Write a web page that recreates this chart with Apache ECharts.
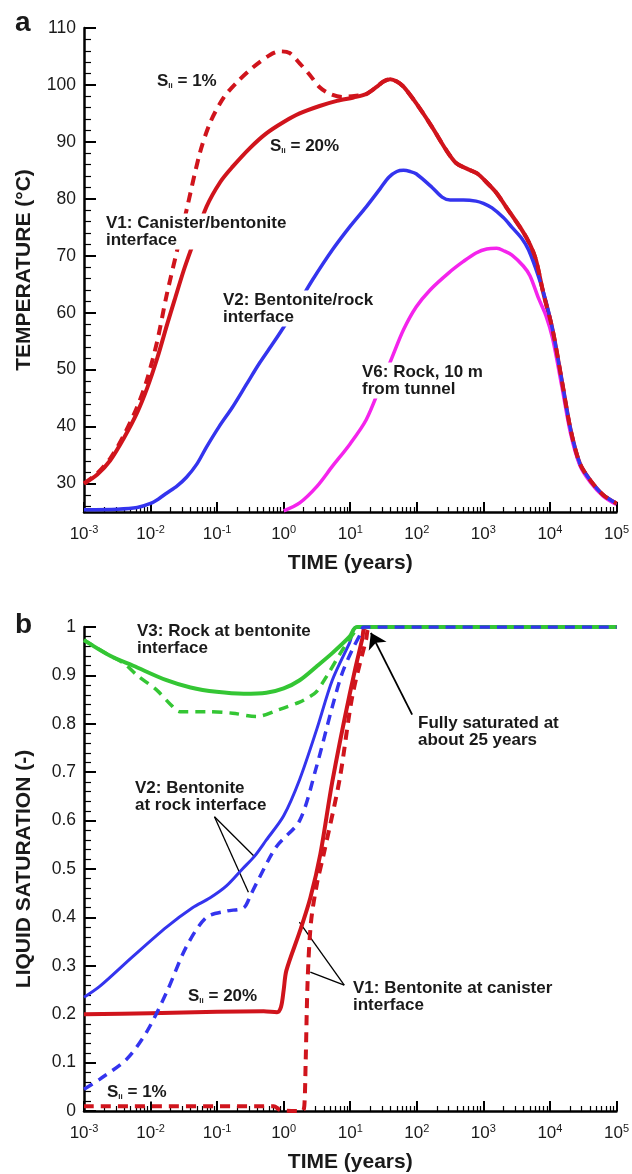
<!DOCTYPE html>
<html>
<head>
<meta charset="utf-8">
<script src="https://cdn.jsdelivr.net/npm/echarts@6/dist/echarts.min.js"></script>
<style>
  html, body { margin: 0; padding: 0; background: #fff; }
  #chart { width: 632px; height: 1174px; }
</style>
</head>
<body>
<div id="chart"></div>
<script>
// Time is stored as log10(years); the x axes run over decades 10^-3 .. 10^5.
const timeDecades = [-3, -2, -1, 0, 1, 2, 3, 4, 5];
const tempTicks = [30, 40, 50, 60, 70, 80, 90, 100, 110];
const satTicks = [0, 0.1, 0.2, 0.3, 0.4, 0.5, 0.6, 0.7, 0.8, 0.9, 1];

// (a) Temperature, °C
const v1TempSli20 = [[-3,30],[-2.8,31.6],[-2.61,34],[-2.4,38],[-2.2,42.5],[-2.05,46.8],[-1.9,52],[-1.75,58],[-1.64,62.2],[-1.5,67.5],[-1.38,71.5],[-1.16,78.6],[-0.95,83],[-0.77,85.6],[-0.5,89],[-0.26,91.5],[0,93.5],[0.24,95],[0.54,96.3],[0.8,97.2],[1.05,97.8],[1.24,98.4],[1.39,99.6],[1.5,100.6],[1.6,101],[1.7,100.6],[1.8,99.7],[1.99,96.8],[2.23,92.6],[2.44,88.6],[2.59,86.3],[2.75,85.3],[2.9,84.5],[3.04,83],[3.2,81],[3.34,78.6],[3.58,74.5],[3.7,72],[3.79,69.3],[3.9,63.5],[4.04,57],[4.18,48],[4.31,39.5],[4.45,33.5],[4.61,30.5],[4.8,28],[5,26.5]];
const v1TempSli1Early = [[-3,30],[-2.8,31.8],[-2.6,34.5],[-2.4,38.5],[-2.2,43.5],[-2.06,48],[-1.9,55],[-1.76,63],[-1.6,71],[-1.46,78],[-1.26,88],[-1.1,93.5],[-0.9,97.8],[-0.7,100.5],[-0.47,103],[-0.2,105.3],[-0.05,105.9],[0.09,105.6],[0.24,103.8],[0.39,101.8],[0.54,99.6],[0.7,98.4],[0.88,97.9],[1.09,98.1],[1.24,98.4]];
const v2Temp = [[-3,25.4],[-2.5,25.5],[-2.2,25.8],[-2,26.5],[-1.88,27.3],[-1.76,28.3],[-1.6,29.6],[-1.46,31.1],[-1.3,33.5],[-1.16,36.4],[-0.97,40],[-0.77,43.4],[-0.56,47.4],[-0.36,51.2],[-0.15,54.8],[0.04,58.2],[0.24,62],[0.43,65.7],[0.73,71],[1,75.2],[1.24,78.6],[1.45,81.8],[1.58,83.8],[1.7,84.8],[1.8,85],[1.9,84.8],[1.99,84.4],[2.23,82],[2.38,80.3],[2.5,79.8],[2.7,79.8],[2.89,79.6],[3,79.2],[3.13,78.4],[3.3,76.7],[3.43,75],[3.58,73],[3.68,71],[3.83,66.3],[3.94,62],[4.04,57],[4.18,48],[4.31,39.5],[4.45,33.5],[4.61,30.5],[4.8,28],[5,26.5]];
const v6Temp = [[0,25.2],[0.24,26.6],[0.5,29.5],[0.73,33],[1,37],[1.24,41.2],[1.45,47],[1.63,52.2],[1.8,57],[1.99,61],[2.2,64],[2.48,67],[2.7,69],[2.89,70.5],[3.05,71.2],[3.2,71.3],[3.32,70.8],[3.43,70.1],[3.6,68.2],[3.7,66.5],[3.83,62.5],[3.94,59.5],[4.04,55.5],[4.18,47],[4.31,38.8],[4.45,33.2],[4.61,30.2],[4.8,27.8],[5,26.3]];

// (b) Liquid saturation, -
const v1SatSli20 = [[-3,0.2],[-2,0.202],[-1,0.205],[-0.3,0.206],[-0.1,0.204],[-0.04,0.215],[0,0.25],[0.04,0.29],[0.24,0.37],[0.4,0.44],[0.55,0.53],[0.73,0.68],[0.99,0.86],[1.18,0.975],[1.24,1],[5,1]];
const v1SatSli1 = [[-3,0.01],[-0.15,0.01],[-0.05,0.002],[0.28,0],[0.31,0.01],[0.33,0.1],[0.36,0.27],[0.41,0.39],[0.5,0.47],[0.6,0.53],[0.84,0.685],[1.03,0.856],[1.24,0.975],[1.3,1],[5,1]];
const v2SatSli20 = [[-3,0.235],[-2.76,0.258],[-2.26,0.32],[-1.76,0.38],[-1.37,0.42],[-1.11,0.44],[-0.86,0.465],[-0.62,0.5],[-0.44,0.526],[-0.26,0.56],[0,0.61],[0.24,0.685],[0.5,0.79],[0.73,0.89],[0.99,0.967],[1.1,1],[5,1]];
const v2SatSli1 = [[-3,0.045],[-2.76,0.066],[-2.36,0.107],[-2.06,0.163],[-1.76,0.245],[-1.46,0.34],[-1.16,0.4],[-0.86,0.413],[-0.6,0.42],[-0.5,0.445],[-0.41,0.47],[-0.11,0.546],[0.24,0.6],[0.49,0.71],[0.73,0.835],[0.88,0.905],[1.03,0.953],[1.17,0.99],[1.2,1],[5,1]];
const v3SatSli20 = [[-3,0.973],[-2.6,0.94],[-2.26,0.92],[-1.76,0.89],[-1.4,0.875],[-1.01,0.866],[-0.6,0.862],[-0.26,0.864],[0,0.873],[0.24,0.89],[0.49,0.918],[0.73,0.946],[0.99,0.98],[1.1,1],[5,1]];
const v3SatSli1 = [[-3,0.973],[-2.6,0.94],[-2.4,0.925],[-2.2,0.9],[-1.91,0.87],[-1.7,0.84],[-1.56,0.825],[-1.16,0.825],[-0.77,0.822],[-0.41,0.815],[-0.06,0.83],[0.24,0.845],[0.39,0.856],[0.49,0.866],[0.64,0.897],[0.88,0.952],[1.09,0.994],[1.15,1],[5,1]];

// Leader lines and arrow in panel (b), in axis units
const v2Leaders = [[[-1.04,0.608],[-0.44,0.526]], [[-1.04,0.608],[-0.53,0.452]]];
const v1Leaders = [[[0.91,0.26],[0.236,0.39]], [[0.91,0.26],[0.40,0.287]]];
const saturationArrow = [[1.93,0.819],[1.31,0.988]];

const FONT = "'Liberation Sans', Arial, Helvetica, sans-serif";
const RED = '#d0141c', BLUE = '#3434ee', MAGENTA = '#f424ec', GREEN = '#34c634';
const INK = '#1a1a1a';

// log-decade minor ticks (2..9 within each decade)
const minorTimeTicks = [];
for (let d = -3; d < 5; d++) for (let k = 2; k <= 9; k++) minorTimeTicks.push(d + Math.log10(k));
const minorTempTicks = [];
for (let v = 26; v < 110; v += 2) if (v % 10 !== 0) minorTempTicks.push(v);
const minorSatTicks = [];
for (let i = 1; i < 50; i++) if (i % 5 !== 0) minorSatTicks.push(i / 50);

function timeAxis(gridIndex) {
  return {
    type: 'value', gridIndex, min: -3, max: 5, interval: 1, position: 'bottom',
    name: 'TIME (years)', nameLocation: 'middle', nameGap: 41,
    nameTextStyle: { fontSize: 21, fontWeight: 'bold', color: INK, fontFamily: FONT },
    axisLine: { show: true, onZero: false, lineStyle: { color: '#000', width: 2.5 } },
    axisTick: { show: true, inside: true, length: 10, customValues: timeDecades, lineStyle: { color: '#000', width: 2 } },
    axisLabel: {
      margin: 12, showMinLabel: true, showMaxLabel: true, color: INK, customValues: timeDecades,
      formatter: v => '{b|10}{s|' + Math.round(v) + '}',
      rich: {
        b: { fontSize: 17, lineHeight: 20, fontFamily: FONT, color: INK },
        s: { fontSize: 11, lineHeight: 12, verticalAlign: 'top', fontFamily: FONT, color: INK }
      }
    },
    splitLine: { show: false }
  };
}
function minorTimeAxis(gridIndex) {
  return {
    type: 'value', gridIndex, min: -3, max: 5, position: 'bottom',
    axisLine: { show: false, onZero: false }, axisLabel: { show: false }, splitLine: { show: false },
    axisTick: { show: true, inside: true, length: 5, customValues: minorTimeTicks, lineStyle: { color: '#000', width: 1.2 } }
  };
}
function valueAxis(gridIndex, min, max, ticks, name, fmt) {
  return {
    type: 'value', gridIndex, min, max, position: 'left',
    name, nameLocation: 'middle', nameGap: 49, nameRotate: 90,
    nameTextStyle: { fontSize: 21, fontWeight: 'bold', color: INK, fontFamily: FONT },
    axisLine: { show: true, onZero: false, lineStyle: { color: '#000', width: 2.5 } },
    axisTick: { show: true, inside: true, length: 12, customValues: ticks, lineStyle: { color: '#000', width: 2 } },
    axisLabel: { customValues: ticks, margin: 8, fontSize: 17.5, fontFamily: FONT, color: INK, formatter: fmt, showMinLabel: true, showMaxLabel: true },
    splitLine: { show: false }
  };
}
function minorValueAxis(gridIndex, min, max, ticks) {
  return {
    type: 'value', gridIndex, min, max, position: 'left',
    axisLine: { show: false, onZero: false }, axisLabel: { show: false }, splitLine: { show: false },
    axisTick: { show: true, inside: true, length: 7, customValues: ticks, lineStyle: { color: '#000', width: 1.2 } }
  };
}

function curve(data, xi, yi, color, width, dashed) {
  return {
    type: 'line', xAxisIndex: xi, yAxisIndex: yi, data, showSymbol: false, symbol: 'none',
    smooth: 0.3, silent: true, animation: false,
    lineStyle: { color, width, type: dashed ? [10, 7] : 'solid', cap: 'butt', join: 'round' }
  };
}
function leaders(list, arrow) {
  return {
    type: 'lines', coordinateSystem: 'cartesian2d', xAxisIndex: 2, yAxisIndex: 2, silent: true, animation: false,
    symbol: arrow ? ['none', 'arrow'] : ['none', 'none'], symbolSize: arrow ? [9, 15] : 0,
    lineStyle: { color: '#000', width: arrow ? 1.8 : 1.3, opacity: 1 },
    data: list.map(c => ({ coords: c }))
  };
}

const v1TempSli1 = v1TempSli1Early.concat(v1TempSli20.filter(p => p[0] >= 1.39));

// Notes sit on a white box so the curves pass behind them
const textStyle = { fontSize: 17, fontWeight: 'bold', fontFamily: FONT, fill: INK, lineHeight: 17, backgroundColor: '#fff', padding: [1, 2] };
const richS = {
  m: { fontSize: 17, fontWeight: 'bold', fontFamily: FONT, fill: INK, lineHeight: 17 },
  sub: { fontSize: 8, fontWeight: 'bold', fontFamily: FONT, fill: INK, lineHeight: 9, verticalAlign: 'bottom' }
};
// (x, y) = left edge and centre of the first line
function note(x, y, text, extra) {
  const lines = text.split('\n').length;
  return {
    type: 'text', x, y: y - 8.5 - 1, silent: true, z: 100,
    style: Object.assign({ text, verticalAlign: 'top', align: 'left' }, textStyle, extra || {})
  };
}
function sli(x, y, pct) {
  return {
    type: 'text', x, y, silent: true, z: 100,
    style: { text: '{m|S}{sub|li}{m| = ' + pct + '}', rich: richS, verticalAlign: 'middle', align: 'left', backgroundColor: '#fff', padding: [1, 2] }
  };
}
function panelLetter(x, y, ch) {
  return { type: 'text', x, y, silent: true, style: { text: ch, fontSize: 28, fontWeight: 'bold', fontFamily: FONT, fill: INK, verticalAlign: 'middle', align: 'left' } };
}

const chart = echarts.init(document.getElementById('chart'), null, { renderer: 'canvas' });
chart.setOption({
  backgroundColor: '#fff',
  animation: false,
  grid: [
    { left: 84, top: 28, width: 534, height: 484, containLabel: false },
    { left: 84, top: 627, width: 534, height: 485, containLabel: false }
  ],
  xAxis: [timeAxis(0), minorTimeAxis(0), timeAxis(1), minorTimeAxis(1)],
  yAxis: [
    valueAxis(0, 25, 110, tempTicks, 'TEMPERATURE (°C)', v => String(Math.round(v))),
    minorValueAxis(0, 25, 110, minorTempTicks),
    valueAxis(1, 0, 1, satTicks, 'LIQUID SATURATION (-)', v => String(Math.round(v * 10) / 10)),
    minorValueAxis(1, 0, 1, minorSatTicks)
  ],
  series: [
    curve(v1TempSli20, 0, 0, RED, 4, false),
    curve(v6Temp, 0, 0, MAGENTA, 3.5, false),
    curve(v2Temp, 0, 0, BLUE, 3.5, false),
    curve(v1TempSli1, 0, 0, RED, 4, true),

    curve(v1SatSli20, 2, 2, RED, 4, false),
    curve(v1SatSli1, 2, 2, RED, 4, true),
    curve(v2SatSli20, 2, 2, BLUE, 3, false),
    curve(v3SatSli20, 2, 2, GREEN, 4, false),
    curve(v3SatSli1, 2, 2, GREEN, 3.5, true),
    curve(v2SatSli1, 2, 2, BLUE, 3.5, true),

    leaders(v2Leaders.concat(v1Leaders), false),
    leaders([saturationArrow], true)
  ],
  graphic: [
    panelLetter(15, 23, 'a'),
    sli(155, 81, '1%'),
    sli(268, 146, '20%'),
    note(104, 223, 'V1: Canister/bentonite\ninterface'),
    note(221, 300, 'V2: Bentonite/rock\ninterface'),
    note(360, 372, 'V6: Rock, 10 m\nfrom tunnel'),

    panelLetter(15, 625, 'b'),
    note(135, 631, 'V3: Rock at bentonite\ninterface'),
    note(133, 788, 'V2: Bentonite\nat rock interface'),
    note(416, 723, 'Fully saturated at\nabout 25 years'),
    sli(186, 996, '20%'),
    sli(105, 1092, '1%'),
    note(351, 988, 'V1: Bentonite at canister\ninterface')
  ]
});
</script>
</body>
</html>
